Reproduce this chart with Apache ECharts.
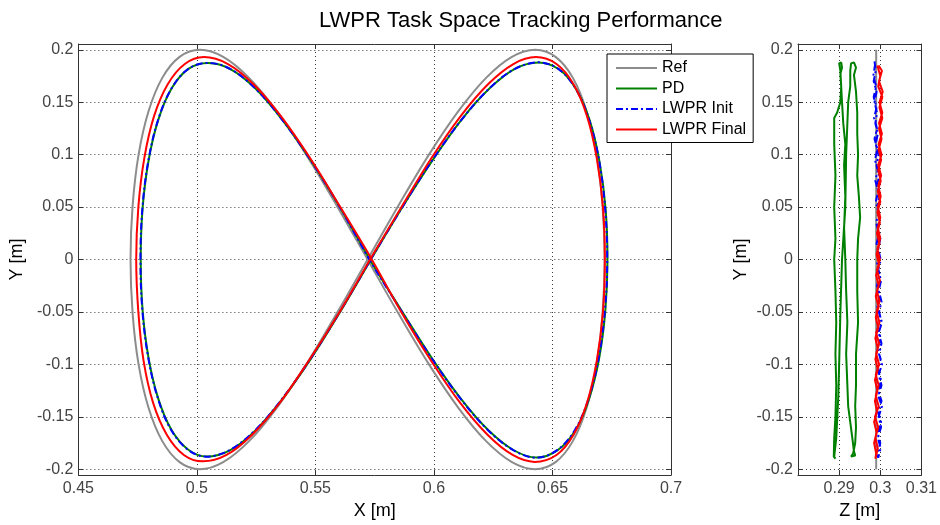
<!DOCTYPE html>
<html>
<head>
<meta charset="utf-8">
<title>LWPR Task Space Tracking Performance</title>
<script src="https://cdn.jsdelivr.net/npm/echarts@6/dist/echarts.min.js"></script>
<style>
  html, body { margin: 0; padding: 0; background: #ffffff; }
  #chart { width: 940px; height: 525px; }
</style>
</head>
<body>
<div id="chart"></div>
<script>
// ---- data -------------------------------------------------------------
const seriesNames = ['Ref', 'PD', 'LWPR Init', 'LWPR Final'];

// Y tick values shared by both panels, Z tick values for the side panel
const yTickValues = [-0.2, -0.15, -0.1, -0.05, 0, 0.05, 0.1, 0.15, 0.2];
const zTickValues = [0.29, 0.3, 0.31];

// X-Y trajectories (one full figure-eight each)
const refXY = [
  [0.5720, 0], [0.5851, 0.0518], [0.5979, 0.1000], [0.6103, 0.1414], [0.6220, 0.1732],
  [0.6329, 0.1932], [0.6427, 0.2000], [0.6513, 0.1932], [0.6586, 0.1732], [0.6644, 0.1414],
  [0.6686, 0.1000], [0.6711, 0.0518], [0.6720, 0], [0.6711, -0.0518], [0.6686, -0.1000],
  [0.6644, -0.1414], [0.6586, -0.1732], [0.6513, -0.1932], [0.6427, -0.2000], [0.6329, -0.1932],
  [0.6220, -0.1732], [0.6103, -0.1414], [0.5979, -0.1000], [0.5851, -0.0518], [0.5720, 0],
  [0.5589, 0.0518], [0.5461, 0.1000], [0.5337, 0.1414], [0.5220, 0.1732], [0.5111, 0.1932],
  [0.5013, 0.2000], [0.4927, 0.1932], [0.4854, 0.1732], [0.4796, 0.1414], [0.4754, 0.1000],
  [0.4729, 0.0518], [0.4720, 0], [0.4729, -0.0518], [0.4754, -0.1000], [0.4796, -0.1414],
  [0.4854, -0.1732], [0.4927, -0.1932], [0.5013, -0.2000], [0.5111, -0.1932], [0.5220, -0.1732],
  [0.5337, -0.1414], [0.5461, -0.1000], [0.5589, -0.0518], [0.5720, 0]
];

const pdXY = [
  [0.5735, 0.0005], [0.5864, 0.0490], [0.5993, 0.0943], [0.6116, 0.1332], [0.6234, 0.1630],
  [0.6341, 0.1818], [0.6441, 0.1879], [0.6527, 0.1814], [0.6599, 0.1626], [0.6657, 0.1327],
  [0.6698, 0.0938], [0.6724, 0.0485], [0.6732, -0.0002], [0.6723, -0.0489], [0.6697, -0.0942],
  [0.6654, -0.1331], [0.6596, -0.1630], [0.6522, -0.1818], [0.6433, -0.1889], [0.6337, -0.1819],
  [0.6230, -0.1628], [0.6114, -0.1328], [0.5991, -0.0940], [0.5863, -0.0486], [0.5734, -0.0018],
  [0.5607, 0.0485], [0.5483, 0.0938], [0.5362, 0.1327], [0.5249, 0.1626], [0.5143, 0.1814],
  [0.5047, 0.1874], [0.4964, 0.1818], [0.4893, 0.1630], [0.4837, 0.1331], [0.4796, 0.0942],
  [0.4771, 0.0489], [0.4763, 0.0002], [0.4771, -0.0485], [0.4796, -0.0938], [0.4837, -0.1327],
  [0.4893, -0.1626], [0.4964, -0.1814], [0.5041, -0.1879], [0.5139, -0.1820], [0.5246, -0.1632],
  [0.5360, -0.1332], [0.5482, -0.0943], [0.5607, -0.0490], [0.5735, 0.0005]
];

const lwprInitXY = [
  [0.5733, 0], [0.5863, 0.0487], [0.5991, 0.0940], [0.6115, 0.1329], [0.6232, 0.1628],
  [0.6340, 0.1816], [0.6442, 0.1880], [0.6526, 0.1816], [0.6598, 0.1628], [0.6655, 0.1329],
  [0.6697, 0.0940], [0.6722, 0.0487], [0.6731, 0], [0.6721, -0.0487], [0.6695, -0.0940],
  [0.6652, -0.1329], [0.6594, -0.1628], [0.6521, -0.1816], [0.6432, -0.1890], [0.6336, -0.1820],
  [0.6229, -0.1630], [0.6113, -0.1330], [0.5990, -0.0942], [0.5862, -0.0488], [0.5733, -0.0020],
  [0.5606, 0.0487], [0.5482, 0.0940], [0.5361, 0.1329], [0.5248, 0.1628], [0.5142, 0.1816],
  [0.5046, 0.1875], [0.4963, 0.1816], [0.4892, 0.1628], [0.4836, 0.1329], [0.4795, 0.0940],
  [0.4770, 0.0487], [0.4762, 0], [0.4770, -0.0487], [0.4795, -0.0940], [0.4836, -0.1329],
  [0.4892, -0.1628], [0.4963, -0.1816], [0.5040, -0.1880], [0.5138, -0.1818], [0.5245, -0.1630],
  [0.5359, -0.1330], [0.5481, -0.0941], [0.5606, -0.0488], [0.5733, 0]
];

const lwprFinalXY = [
  [0.5734, 0.0015], [0.5863, 0.0500], [0.5989, 0.0965], [0.6112, 0.1365], [0.6228, 0.1671],
  [0.6335, 0.1864], [0.6430, 0.1930], [0.6517, 0.1864], [0.6589, 0.1671], [0.6646, 0.1365],
  [0.6687, 0.0965], [0.6713, 0.0500], [0.6721, 0], [0.6713, -0.0500], [0.6687, -0.0965],
  [0.6646, -0.1365], [0.6589, -0.1671], [0.6517, -0.1864], [0.6425, -0.1930], [0.6332, -0.1864],
  [0.6226, -0.1671], [0.6110, -0.1365], [0.5988, -0.0965], [0.5862, -0.0500], [0.5734, 0.0015],
  [0.5605, 0.0500], [0.5478, 0.0965], [0.5355, 0.1365], [0.5239, 0.1671], [0.5131, 0.1864],
  [0.5030, 0.1930], [0.4949, 0.1864], [0.4877, 0.1671], [0.4819, 0.1365], [0.4778, 0.0965],
  [0.4753, 0.0500], [0.4744, 0], [0.4753, -0.0500], [0.4775, -0.0965], [0.4815, -0.1365],
  [0.4873, -0.1671], [0.4945, -0.1864], [0.5025, -0.1925], [0.5125, -0.1864], [0.5233, -0.1671],
  [0.5350, -0.1365], [0.5472, -0.0965], [0.5602, -0.0500], [0.5734, 0.0015]
];

// Z-Y trajectories (side view)
const refZY = [
  [0.2990, 0.2], [0.2990, 0.1], [0.2990, 0], [0.2990, -0.1], [0.2990, -0.2]
];

const pdZY = [
  // up from the lower left into the upper right turn
  [0.2888, -0.188], [0.2893, -0.170], [0.2898, -0.130], [0.2900, -0.100], [0.2903, -0.050],
  [0.2907, 0], [0.2915, 0.050], [0.2917, 0.100], [0.2920, 0.130], [0.2922, 0.150],
  [0.2927, 0.165], [0.2927, 0.180], [0.2929, 0.187], [0.2936, 0.188], [0.2941, 0.183],
  [0.2936, 0.176],
  // down the right-hand strand
  [0.2941, 0.160], [0.2944, 0.140], [0.2944, 0.120], [0.2946, 0.100], [0.2944, 0.080],
  [0.2948, 0.060], [0.2951, 0.040], [0.2946, 0.020], [0.2944, 0], [0.2944, -0.030],
  [0.2946, -0.060], [0.2941, -0.090], [0.2941, -0.120], [0.2939, -0.140], [0.2941, -0.160],
  [0.2939, -0.175], [0.2934, -0.185], [0.2929, -0.188], [0.2939, -0.187], [0.2936, -0.183],
  // up the middle strand into the upper left turn
  [0.2932, -0.170], [0.2927, -0.155], [0.2922, -0.140], [0.2920, -0.120], [0.2917, -0.090],
  [0.2920, -0.060], [0.2917, -0.030], [0.2915, 0], [0.2912, 0.030], [0.2915, 0.060],
  [0.2912, 0.090], [0.2915, 0.110], [0.2910, 0.130], [0.2907, 0.150], [0.2905, 0.165],
  [0.2903, 0.180], [0.2900, 0.187], [0.2905, 0.188], [0.2907, 0.183], [0.2903, 0.177],
  // down the left-hand strand
  [0.2905, 0.165], [0.2903, 0.150], [0.2895, 0.140], [0.2888, 0.135], [0.2888, 0.110],
  [0.2891, 0.080], [0.2888, 0.050], [0.2891, 0.020], [0.2888, 0], [0.2891, -0.030],
  [0.2893, -0.060], [0.2891, -0.090], [0.2893, -0.120], [0.2891, -0.150], [0.2888, -0.170],
  [0.2887, -0.188], [0.2891, -0.190], [0.2888, -0.188]
];

const lwprInitZY = [
  [0.2986, 0.189], [0.2989, 0.18], [0.2984, 0.17], [0.2991, 0.16], [0.2986, 0.15],
  [0.2992, 0.14], [0.2988, 0.13], [0.2994, 0.12], [0.2989, 0.11], [0.2996, 0.10],
  [0.2991, 0.09], [0.2997, 0.08], [0.2992, 0.07], [0.2998, 0.06], [0.2993, 0.05],
  [0.2999, 0.04], [0.2994, 0.03], [0.3000, 0.02], [0.2995, 0.01], [0.3001, 0],
  [0.2995, -0.01], [0.3002, -0.02], [0.2996, -0.03], [0.3003, -0.04], [0.2997, -0.05],
  [0.3004, -0.06], [0.2996, -0.07], [0.3003, -0.08], [0.2997, -0.09], [0.3004, -0.10],
  [0.2996, -0.11], [0.3003, -0.12], [0.2995, -0.13], [0.3004, -0.14], [0.2996, -0.15],
  [0.3002, -0.16], [0.2994, -0.17], [0.3001, -0.18], [0.2995, -0.189],
  [0.2993, -0.185], [0.3000, -0.175], [0.2993, -0.165], [0.3002, -0.155], [0.2994, -0.145],
  [0.3003, -0.135], [0.2995, -0.125], [0.3002, -0.115], [0.2994, -0.105], [0.3001, -0.095],
  [0.2993, -0.085], [0.3001, -0.075], [0.2994, -0.065], [0.3000, -0.055], [0.2993, -0.045],
  [0.3000, -0.035], [0.2992, -0.025], [0.2999, -0.015], [0.2992, -0.005], [0.2998, 0.005],
  [0.2991, 0.015], [0.2997, 0.025], [0.2990, 0.035], [0.2996, 0.045], [0.2989, 0.055],
  [0.2995, 0.065], [0.2988, 0.075], [0.2994, 0.085], [0.2987, 0.095], [0.2993, 0.105],
  [0.2986, 0.115], [0.2992, 0.125], [0.2985, 0.135], [0.2991, 0.145], [0.2984, 0.155],
  [0.2990, 0.165], [0.2983, 0.175], [0.2987, 0.185]
];

const lwprFinalZY = [
  [0.2993, 0.185], [0.3000, 0.175], [0.2995, 0.165], [0.3005, 0.155], [0.2998, 0.145],
  [0.3005, 0.135], [0.2997, 0.125], [0.3003, 0.115], [0.2996, 0.105], [0.3002, 0.095],
  [0.2995, 0.085], [0.3001, 0.075], [0.2994, 0.065], [0.3000, 0.055], [0.2993, 0.045],
  [0.2999, 0.035], [0.2992, 0.025], [0.2998, 0.015], [0.2991, 0.005], [0.2997, -0.005],
  [0.2990, -0.015], [0.2996, -0.025], [0.2989, -0.035], [0.2996, -0.045], [0.2989, -0.055],
  [0.2995, -0.065], [0.2988, -0.075], [0.2994, -0.085], [0.2988, -0.095], [0.2994, -0.105],
  [0.2987, -0.115], [0.2993, -0.125], [0.2987, -0.135], [0.2992, -0.145], [0.2985, -0.155],
  [0.2991, -0.165], [0.2985, -0.175], [0.2990, -0.185],
  [0.2988, -0.19], [0.2994, -0.18], [0.2988, -0.17], [0.2995, -0.16], [0.2987, -0.15],
  [0.2996, -0.14], [0.2989, -0.13], [0.2996, -0.12], [0.2989, -0.11], [0.2997, -0.10],
  [0.2990, -0.09], [0.2997, -0.08], [0.2990, -0.07], [0.2998, -0.06], [0.2991, -0.05],
  [0.2998, -0.04], [0.2992, -0.03], [0.2999, -0.02], [0.2992, -0.01], [0.2999, 0],
  [0.2993, 0.01], [0.3000, 0.02], [0.2994, 0.03], [0.3000, 0.04], [0.2994, 0.05],
  [0.3001, 0.06], [0.2995, 0.07], [0.3002, 0.08], [0.2995, 0.09], [0.3003, 0.10],
  [0.2996, 0.11], [0.3004, 0.12], [0.2997, 0.13], [0.3005, 0.14], [0.2998, 0.15],
  [0.3006, 0.16], [0.2997, 0.17], [0.3004, 0.18], [0.2996, 0.185]
];

// ---- styling ----------------------------------------------------------
const FONT = '"Liberation Sans", Arial, Helvetica, sans-serif';
const AXIS_COLOR = '#333333';
const colors = {
  'Ref': '#8c8c8c',
  'PD': '#008000',
  'LWPR Init': '#0000ff',
  'LWPR Final': '#ff0000'
};
const lineTypes = {
  'Ref': 'solid',
  'PD': 'solid',
  'LWPR Init': [7, 3, 2, 3],
  'LWPR Final': 'solid'
};

const Y_MIN = -0.2055, Y_MAX = 0.2055;

const gridLine = { show: true, lineStyle: { color: '#3a3a3a', width: 1, type: [1, 3] } };
const boxLine = { show: true, onZero: false, lineStyle: { color: AXIS_COLOR, width: 1 } };
const tickIn = { show: true, inside: true, length: 5, lineStyle: { color: AXIS_COLOR, width: 1 } };
const tickLabel = { fontSize: 16, color: '#444444', fontFamily: FONT };
const nameStyle = { fontSize: 18, color: '#000000', fontFamily: FONT };

function mainAxisBottom() {
  return {
    gridIndex: 0, type: 'value', position: 'bottom',
    min: 0.45, max: 0.7, interval: 0.05,
    name: 'X [m]', nameLocation: 'middle', nameGap: 27, nameTextStyle: nameStyle,
    axisLine: boxLine, axisTick: tickIn,
    axisLabel: Object.assign({ margin: 6 }, tickLabel),
    splitLine: gridLine
  };
}
function mainAxisTop() {
  return {
    gridIndex: 0, type: 'value', position: 'top',
    min: 0.45, max: 0.7, interval: 0.05,
    axisLine: boxLine, axisTick: tickIn,
    axisLabel: { show: false }, splitLine: { show: false }
  };
}
function sideAxisBottom() {
  return {
    gridIndex: 1, type: 'value', position: 'bottom',
    min: 0.28, max: 0.31,
    name: 'Z [m]', nameLocation: 'middle', nameGap: 27, nameTextStyle: nameStyle,
    axisLine: boxLine,
    axisTick: Object.assign({ customValues: zTickValues }, tickIn),
    axisLabel: Object.assign({ margin: 6, customValues: zTickValues }, tickLabel),
    splitLine: gridLine
  };
}
function sideAxisTop() {
  return {
    gridIndex: 1, type: 'value', position: 'top',
    min: 0.28, max: 0.31,
    axisLine: boxLine,
    axisTick: Object.assign({ customValues: zTickValues }, tickIn),
    axisLabel: { show: false }, splitLine: { show: false }
  };
}
function yLeft(gridIndex) {
  return {
    gridIndex: gridIndex, type: 'value', position: 'left',
    min: Y_MIN, max: Y_MAX,
    name: 'Y [m]', nameLocation: 'middle', nameGap: 48, nameTextStyle: nameStyle,
    axisLine: boxLine,
    axisTick: Object.assign({ customValues: yTickValues }, tickIn),
    axisLabel: Object.assign({ margin: 5, customValues: yTickValues }, tickLabel),
    splitLine: gridLine
  };
}
function yRight(gridIndex) {
  return {
    gridIndex: gridIndex, type: 'value', position: 'right',
    min: Y_MIN, max: Y_MAX,
    axisLine: boxLine,
    axisTick: Object.assign({ customValues: yTickValues }, tickIn),
    axisLabel: { show: false }, splitLine: { show: false }
  };
}

function trace(name, data, xAxisIndex, yAxisIndex, smooth) {
  return {
    name: name, type: 'line', data: data,
    xAxisIndex: xAxisIndex, yAxisIndex: yAxisIndex,
    symbol: 'none', smooth: smooth, animation: false,
    lineStyle: { color: colors[name], width: 2, type: lineTypes[name] },
    itemStyle: { color: colors[name] },
    emphasis: { disabled: true }
  };
}

const option = {
  animation: false,
  backgroundColor: '#ffffff',
  textStyle: { fontFamily: FONT },
  title: {
    text: 'LWPR Task Space Tracking Performance',
    left: 314, top: 5,
    textStyle: { fontSize: 22, fontWeight: 'normal', color: '#000000', fontFamily: FONT }
  },
  grid: [
    { left: 77, top: 44, width: 594, height: 434, containLabel: false },
    { left: 798, top: 44, width: 125, height: 434, containLabel: false }
  ],
  xAxis: [mainAxisBottom(), mainAxisTop(), sideAxisBottom(), sideAxisTop()],
  yAxis: [yLeft(0), yRight(0), yLeft(1), yRight(1)],
  legend: {
    data: seriesNames,
    orient: 'vertical',
    left: 607, top: 54,
    padding: [6, 7, 5, 8],
    itemWidth: 41, itemHeight: 14, itemGap: 4.5,
    itemStyle: { opacity: 0, borderWidth: 0 },
    backgroundColor: '#ffffff',
    borderColor: '#000000', borderWidth: 1, borderRadius: 0,
    selectedMode: false,
    textStyle: { fontSize: 16, color: '#000000', fontFamily: FONT }
  },
  series: [
    trace('Ref', refXY, 0, 0, 0.35),
    trace('PD', pdXY, 0, 0, 0.35),
    trace('LWPR Init', lwprInitXY, 0, 0, 0.35),
    trace('LWPR Final', lwprFinalXY, 0, 0, 0.35),
    trace('Ref', refZY, 2, 2, false),
    trace('PD', pdZY, 2, 2, false),
    trace('LWPR Init', lwprInitZY, 2, 2, false),
    trace('LWPR Final', lwprFinalZY, 2, 2, false)
  ]
};

const chart = echarts.init(document.getElementById('chart'), null, { renderer: 'canvas' });
chart.setOption(option);
</script>
</body>
</html>
